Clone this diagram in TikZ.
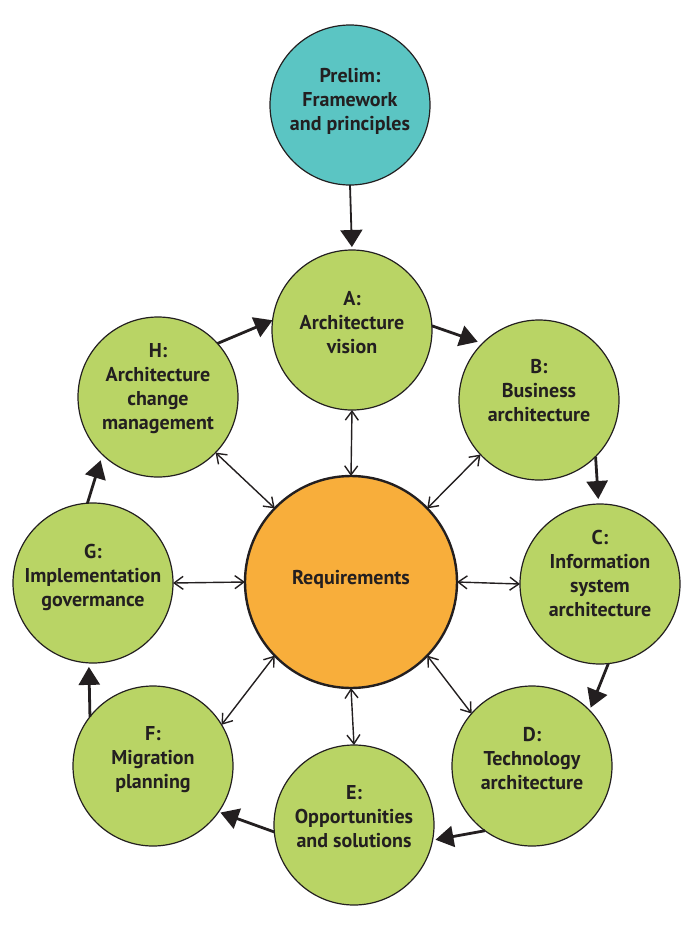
\documentclass[tikz,border=0pt]{standalone}
\usepackage{fontspec}
\setmainfont{PT Sans}
\usetikzlibrary{arrows.meta}
\definecolor{tealc}{HTML}{5BC5C3}
\definecolor{greenc}{HTML}{B9D465}
\definecolor{orangec}{HTML}{F8AE3B}
\definecolor{inkc}{HTML}{231F20}
\tikzset{
  phase/.style={circle, draw=inkc, line width=1.2pt, fill=greenc, minimum size=160pt, inner sep=0pt, outer sep=0pt},
  prelimbox/.style={phase, fill=tealc},
  reqbox/.style={circle, draw=inkc, line width=2.4pt, fill=orangec, minimum size=212pt, inner sep=0pt, outer sep=0pt},
  txt/.style={align=center, text=inkc, font=\fontsize{20}{24}\selectfont\bfseries, inner sep=0pt},
  cyc/.style={draw=inkc, line width=2.8pt, -{Triangle[length=18pt,width=21pt]}},
  prearr/.style={draw=inkc, line width=1.8pt, -{Triangle[length=17pt,width=22pt]}},
  dbl/.style={draw=inkc, line width=1.4pt, {Straight Barb[length=9pt,width=13pt]}-{Straight Barb[length=9pt,width=13pt]}}
}
\begin{document}
\begin{tikzpicture}[x=1pt,y=-1pt]
\useasboundingbox (0,0) rectangle (692,930);
% circles
\node[prelimbox] (P) at (350,105) {};
\node[phase] (A) at (352,330) {};
\node[phase] (B) at (539,400) {};
\node[phase] (C) at (600,584) {};
\node[phase] (D) at (532,766) {};
\node[phase] (E) at (354,825) {};
\node[phase] (F) at (153,766) {};
\node[phase] (G) at (93,583) {};
\node[phase] (H) at (158,397) {};
\node[reqbox] (R) at (351,582) {};
% texts
\node[txt] (Pt) at ([yshift=4pt]P.center) {Prelim:\\Framework\\and principles};
\node[txt] (At) at ([yshift=7pt]A.center) {A:\\Architecture\\vision};
\node[txt] (Bt) at ([yshift=9pt]B.center) {B:\\Business\\architecture};
\node[txt] (Ct) at ([yshift=11pt]C.center) {C:\\Information\\system\\architecture};
\node[txt] (Dt) at ([yshift=7pt]D.center) {D:\\Technology\\architecture};
\node[txt] (Et) at ([yshift=8pt]E.center) {E:\\Opportunities\\and solutions};
\node[txt] (Ft) at ([yshift=6pt]F.center) {F:\\Migration\\planning};
\node[txt] (Gt) at ([yshift=6pt]G.center) {G:\\Implementation\\govermance};
\node[txt] (Ht) at ([yshift=8pt]H.center) {H:\\Architecture\\change\\management};
\node[txt] (Rt) at ([yshift=3pt]R.center) {Requirements};
% prelim arrow
\draw[prearr, shorten >=3pt] (P.270) -- (A.90);
% cycle arrows
\draw[cyc] (H.42.5) -- (A.173);
\draw[cyc, shorten >=5pt] (A.3.6) -- (B.135);
\draw[cyc, shorten >=5pt] (B.-45.5) -- (C.91);
\draw[cyc, shorten >=3pt] (C.-84) -- (D.44.5);
\draw[cyc, shorten >=3pt] (D.234) -- (E.-11);
\draw[cyc, shorten >=2pt] (E.185.6) -- (F.-35);
\draw[cyc, shorten >=4pt] (F.142) -- (G.267);
\draw[cyc, shorten >=6pt] (G.94) -- (H.226);
% requirement links
\draw[dbl] (R.90) -- (A.270);
\draw[dbl] (R.44) -- (B.223.5);
\draw[dbl] (R.0) -- (C.180);
\draw[dbl] (R.-44.6) -- (D.139);
\draw[dbl] (R.270) -- (E.90);
\draw[dbl] (R.224) -- (F.31);
\draw[dbl] (R.180) -- (G.0);
\draw[dbl] (R.136) -- (H.-44);
\end{tikzpicture}
\end{document}
